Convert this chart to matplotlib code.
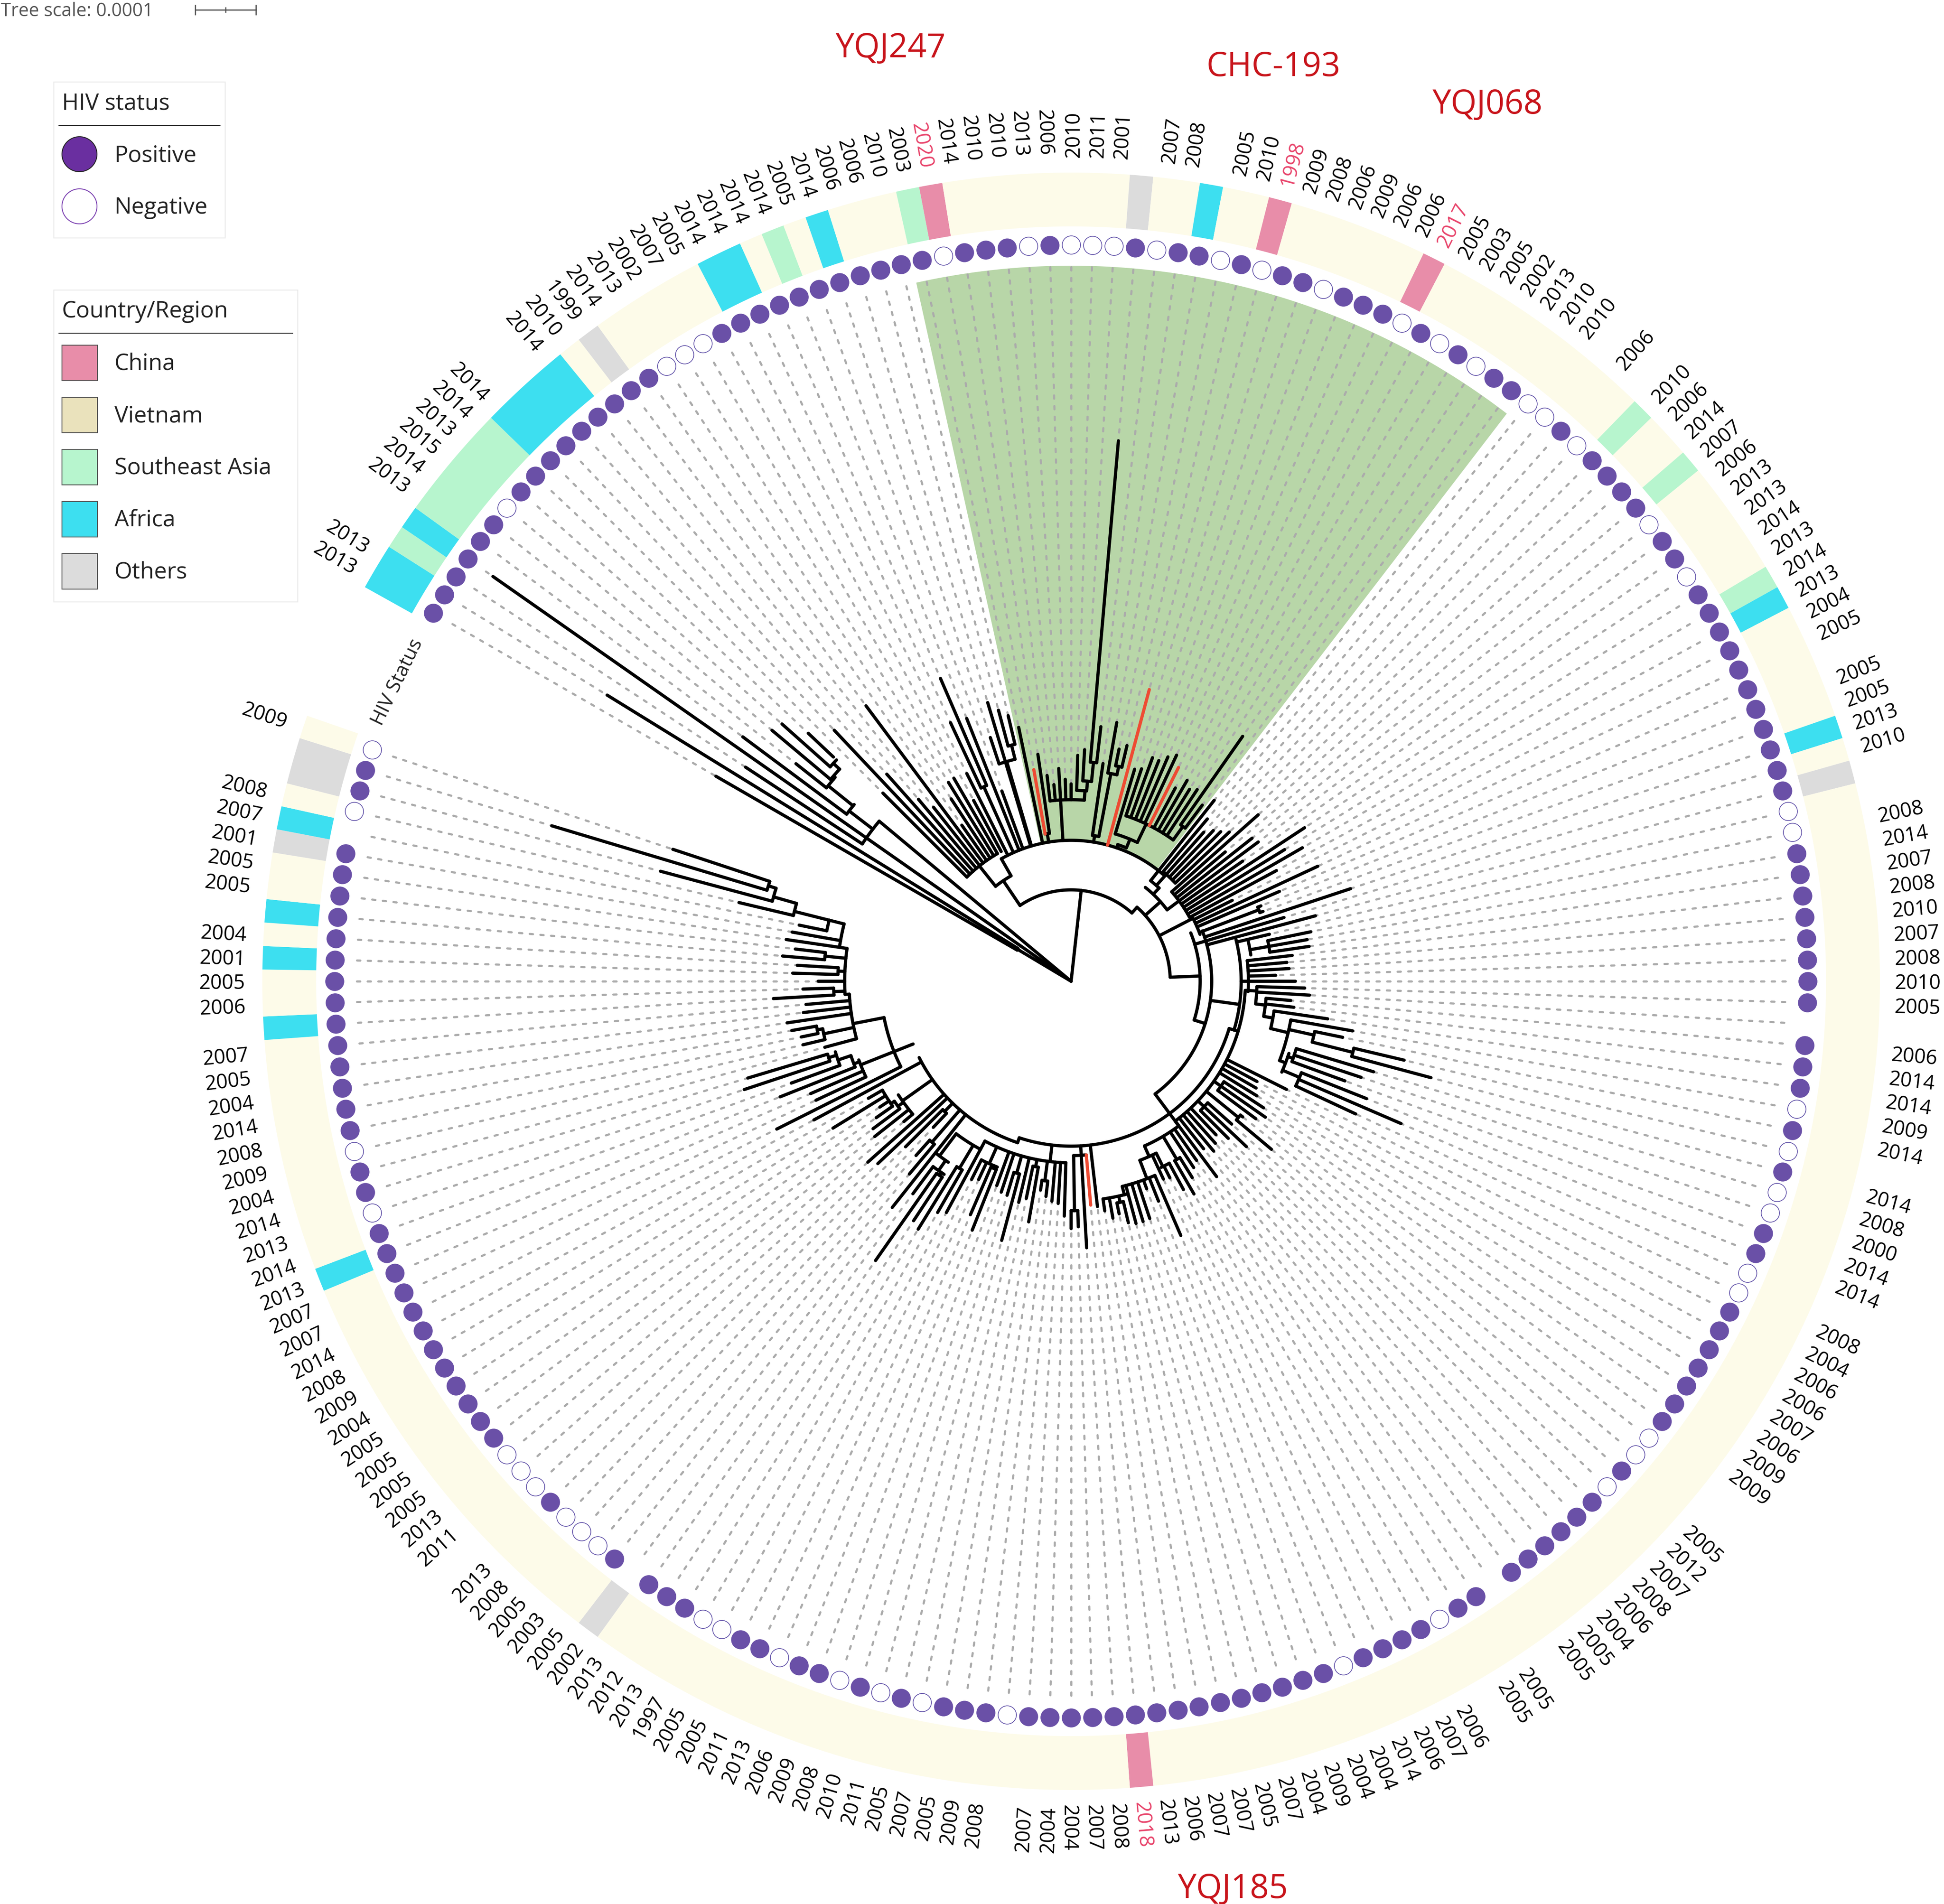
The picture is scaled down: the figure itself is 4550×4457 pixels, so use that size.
import itertools

import matplotlib.pyplot as plt
import numpy as np
from matplotlib.collections import LineCollection
from matplotlib.patches import Circle, Rectangle

plt.rcParams['font.family'] = ['Open Sans', 'DejaVu Sans']
plt.rcParams['lines.scale_dashes'] = False

# Leaves run clockwise, 0 is the one at the upper left end of the ring
YEARS = [
    2013, 2013, None, None, 2013, 2014, 2015, 2013, 2014, 2014,
    None, None, 2014, 2010, 1999, 2014, 2013, 2002, 2007, 2005,
    2014, 2014, 2014, 2014, 2005, 2014, 2006, 2006, 2010, 2003,
    2020, 2014, 2010, 2010, 2013, 2006, 2010, 2011, 2001, None,
    2007, 2008, None, 2005, 2010, 1998, 2009, 2008, 2006, 2009,
    2006, 2006, 2017, 2005, 2003, 2005, 2002, 2013, 2010, 2010,
    None, 2006, None, 2010, 2006, 2014, 2007, 2006, 2013, 2013,
    2014, 2013, 2014, 2013, 2004, 2005, None, 2005, 2005, 2013,
    2010, None, None, 2008, 2014, 2007, 2008, 2010, 2007, 2008,
    2010, 2005, None, 2006, 2014, 2014, 2009, 2014, None, 2014,
    2008, 2000, 2014, 2014, None, 2008, 2004, 2006, 2006, 2007,
    2006, 2009, 2009, None, None, 2005, 2012, 2007, 2008, 2006,
    2004, 2005, 2005, None, 2005, 2005, None, 2006, 2007, 2006,
    2014, 2004, 2004, 2009, 2004, 2007, 2005, 2007, 2007, 2006,
    2013, 2018, 2008, 2007, 2004, 2004, 2007, None, 2008, 2009,
    2005, 2007, 2005, 2011, 2010, 2008, 2009, 2006, 2013, 2011,
    2005, 2005, 1997, 2013, 2012, 2013, 2002, 2005, 2003, 2005,
    2008, 2013, None, 2011, 2013, 2005, 2005, 2005, 2005, 2004,
    2009, 2008, 2014, 2007, 2007, 2013, 2014, 2013, 2014, 2004,
    2009, 2008, 2014, 2004, 2005, 2007, None, 2006, 2005, 2001,
    2004, None, 2005, 2005, 2001, 2007, 2008, None, None, 2009,
]
RED_YEARS = [2020, 1998, 2017, 2018]

# P positive, N negative, _ nothing drawn
STATUS = (
    'PPPPPPNPPPPPPPPPNNNPPPPPPPPPPPNP'
    'PPNPNNNPNPPNPNPPNPPPNPNPNPPNNPNPPPPNPPN' 'PPPPPPPPPPP' 'NN' 'PPPPP'
    'PPP_PPPNPNPNNPPNNPPPPPPPNNPNPPPPPP_PPNPPPPN'
    'PPPPPPPPPPPPPPPN' 'PPPNPNPNPPNPPNNPPP_PNNNPNNNP'
    'PPPPPPPPPPPNPPNPPPPPPPPPPPPPP_NPPN'
)

# C China, V Vietnam, S Southeast Asia, A Africa, O others
REGION = (
    'AASASSSSSAAAAVOVVVVVAAVSVAVVVSCVVVVVVVVOVVAVVCVVVVVVCVVVVVVVVVV'
    'SVVSVVVVVSAVVVVVAVO'
    + 'V' * 59 + 'C' + 'V' * 24 + 'O' + 'V' * 18 + 'A' + 'V' * 10
    + 'AVVAVAVVOAVOOV'
)
REGION_COLORS = {'C': '#E88DA9', 'V': '#FDFBE9', 'S': '#B7F5CE',
                 'A': '#3DDFF0', 'O': '#DCDCDC'}

TIP_R = [
    960, 1276, 912, 1652, 958, 821, 914, 906, 846, 623,
    808, 649, 556, 519, 804, 446, 511, 547, 549, 481,
    544, 668, 772, 662, 474, 601, 681, 657, 639, 607,
    503, 537, 485, 462, 499, 473, 462, 529, 543, 1270,
    600, 515, 615, 555, 567, 707, 518, 524, 557, 556,
    572, 584, 560, 514, 543, 528, 537, 700, 514, 540,
    496, 467, 485, 495, 509, 586, 471, 540, 546, 490,
    654, 587, 625, 546, 422, 637, 531, 478, 478, 689,
    520, 592, 477, 573, 561, 563, 521, 507, 511, 479,
    525, 547, 559, 516, 525, 607, 669, 649, 801, 872,
    739, 715, 682, 744, 841, 735, 564, 494, 500, 511,
    539, 555, 539, 512, 612, 503, 564, 520, 494, 508,
    519, 500, 570, 512, 522, 540, 575, 554, 515, 511,
    648, 554, 517, 585, 587, 587, 581, 556, 563, 543,
    531, 526, 625, 575, 579, 550, 521, 517, 507, 494,
    572, 519, 532, 628, 523, 520, 509, 627, 595, 512,
    519, 615, 625, 682, 671, 798, 620, 675, 589, 546,
    470, 548, 622, 637, 511, 586, 578, 557, 536, 655,
    548, 684, 771, 659, 664, 733, 697, 806, 790, 597,
    645, 645, 664, 672, 631, 623, 698, 628, 592, 652,
    642, 678, 650, 674, 663, 650, 799, 995, 1269, 982,
]
BASE_R = [
    146, 146, 585, 8, 655, 730, 735, 755, 765, 345,
    345, 345, 345, 345, 345, 345, 345, 345, 345, 345,
    330, 499, 499, 330, 330, 536, 330, 570, 570, 330,
    350, 350, 425, 425, 425, 425, 425, 447, 470, 515,
    515, 345, 495, 515, 515, 330, 360, 408, 408, 408,
    408, 408, 408, 408, 408, 408, 408, 447, 447, 300,
    335, 335, 335, 335, 335, 315, 315, 315, 315, 315,
    315, 315, 315, 315, 321, 321, 321, 470, 470, 329,
    302, 329, 425, 470, 470, 470, 415, 415, 415, 415,
    415, 435, 435, 458, 458, 480, 522, 582, 680, 680,
    550, 550, 550, 580, 580, 580, 408, 408, 408, 408,
    428, 428, 428, 505, 505, 428, 428, 428, 408, 408,
    408, 408, 408, 422, 422, 485, 485, 484, 484, 449,
    495, 495, 495, 495, 495, 495, 530, 530, 515, 515,
    386, 408, 408, 537, 537, 425, 425, 425, 471, 471,
    442, 442, 425, 467, 467, 425, 425, 474, 474, 468,
    468, 447, 510, 510, 549, 549, 541, 398, 498, 498,
    425, 425, 398, 398, 484, 484, 500, 510, 510, 510,
    510, 398, 446, 530, 530, 544, 576, 595, 595, 520,
    592, 605, 605, 520, 520, 520, 556, 556, 530, 546,
    546, 579, 579, 548, 548, 584, 668, 724, 743, 743,
]
RED_LEAVES = [30, 45, 52, 141]

# first leaf, last leaf, depth of the arc, leaf position of its stem, depth the stem starts at
ARCS = [
    (15.6, 61, 214, 39.8, 0), (61, 88.6, 232, 61, 214),
    (0, 1, 146, 0.5, 0),
    (2, 5.9, 585, 5.9, 0), (4, 5.5, 655, 4.5, 585), (5, 6.5, 730, 5.3, 655),
    (6, 7.5, 735, 6.2, 730), (7, 8, 755, 7.5, 735),
    (12.9, 18.2, 284, 15.6, 214), (18.2, 61, 330, 18.2, 284), (9, 18, 345, 12.9, 284),
    (21, 22, 499, 21.5, 330), (25, 27.5, 536, 26.2, 330), (27, 28, 570, 27.5, 536),
    (30, 31, 350, 30.5, 330), (32, 38.5, 425, 34, 330), (37, 38.5, 447, 38.5, 425),
    (38, 39.5, 470, 38.8, 447), (39, 40, 515, 39.5, 470),
    (41, 42.5, 345, 41.5, 330), (42, 43.5, 495, 42.5, 345), (43, 44, 515, 43.5, 495),
    (47.3, 49.5, 338, 47.3, 330), (46, 51.3, 360, 49.5, 338), (47, 57.5, 408, 51.3, 360),
    (57, 58, 447, 57.5, 408),
    (59, 68, 280, 65, 232), (59, 62, 300, 62, 280), (60, 64, 335, 61, 300),
    (65, 73, 315, 68, 280),
    (74, 78, 321, 73.6, 232), (77, 78, 470, 77.5, 321),
    (76.8, 100.5, 302, 88.6, 232), (77.4, 122, 329, 100.5, 302),
    (81.5, 100, 398, 94.7, 329), (82, 85, 425, 82, 398), (83, 85, 470, 84, 425),
    (86, 92, 415, 90, 398),
    (100, 155, 386, 122, 329), (155, 182, 398, 155, 386), (92, 122, 408, 100, 386),
    (91, 94, 435, 91.8, 408), (93, 96, 458, 94.2, 435), (95, 98, 480, 96.2, 458),
    (96, 102.5, 522, 98, 480), (97, 98.5, 582, 97.5, 522), (98, 99, 680, 98.5, 582),
    (101, 104, 537, 102.5, 522), (100, 102, 550, 101.5, 537), (103, 105, 580, 103.7, 537),
    (110, 112, 428, 111, 408), (113, 114, 505, 113.5, 408), (115, 117, 428, 116, 408),
    (122, 129.6, 422, 122, 386), (125, 126, 485, 125.6, 422), (128.2, 131.4, 449, 129.6, 422),
    (127, 128.5, 484, 128.2, 449), (130, 135.6, 495, 131.4, 449), (135, 139, 515, 135.6, 495),
    (136, 137, 530, 136.5, 515),
    (141, 143.5, 408, 142, 386), (143, 144, 537, 143.5, 408),
    (145, 161, 425, 148, 386), (148, 149, 471, 148.5, 425), (150, 151, 442, 150.5, 425),
    (153, 154, 467, 153.5, 425), (157, 160, 468, 158.5, 425), (157, 158, 474, 157.5, 468),
    (161, 166.2, 447, 161, 425), (162, 163, 510, 162.5, 447),
    (164.5, 167, 512, 166.2, 447), (164, 166, 541, 165, 512), (164, 165, 549, 164.5, 541),
    (168, 169, 498, 168.5, 398), (170, 171, 425, 170.5, 398),
    (174, 178, 484, 176.8, 398), (176, 177.5, 500, 176.5, 484), (177, 180, 510, 177.5, 500),
    (182, 191.4, 446, 185, 398),
    (183, 185.8, 530, 185, 446), (185, 186.8, 544, 185.5, 530), (186, 188, 576, 186.8, 544),
    (187, 188, 595, 187.5, 576),
    (189, 196, 520, 191.4, 446), (196, 203, 530, 196, 520), (203, 206.5, 548, 203, 530),
    (190, 191.5, 592, 190.8, 520), (191, 192, 605, 191.5, 592),
    (196, 197, 556, 196.5, 530), (199, 200, 546, 199.5, 530), (201, 202, 579, 201.5, 530),
    (205, 206.5, 584, 206.5, 548), (206, 207.5, 668, 206.5, 584),
    (207, 208.5, 724, 207.5, 668), (208, 209, 743, 208.5, 724),
]

CLADE_LEAVES = (28.5, 58.5)

SAMPLE_NAMES = ['YQJ247', 'CHC-193', 'YQJ068', 'YQJ185']
HIV_LEGEND = ['Positive', 'Negative']
REGION_LEGEND = ['China', 'Vietnam', 'Southeast Asia', 'Africa', 'Others']
REGION_LEGEND_COLORS = ['#E88DA9', '#EAE2BC', '#B7F5CE', '#3DDFF0', '#DCDCDC']

cx, cy = 2507, 2297
step = 5 / 3


def leaf_angle(i):
    return np.radians(150 - np.asarray(i, dtype=float) * step)


def polar(i, r):
    a = leaf_angle(i)
    return cx + r * np.cos(a), cy - r * np.sin(a)


def spoke(i, r0, r1):
    x0, y0 = polar(i, r0)
    x1, y1 = polar(i, r1)
    return [(x0, y0), (x1, y1)]


def arc(i0, i1, r):
    xs, ys = polar(np.linspace(i0, i1, max(int(abs(i1 - i0) * 6), 2)), r)
    return np.column_stack([xs, ys])


def sector(i0, i1, r0, r1):
    ii = np.linspace(i0, i1, max(int(abs(i1 - i0) * 6), 2))
    x0, y0 = polar(ii, r0)
    x1, y1 = polar(ii[::-1], r1)
    return np.r_[x0, x1], np.r_[y0, y1]


fig = plt.figure(figsize=(45.5, 44.57), dpi=100)
ax = fig.add_axes([0, 0, 1, 1])
ax.set_xlim(0, 4550)
ax.set_ylim(4457, 0)
ax.axis('off')

# Green clade behind everything
xs, ys = sector(CLADE_LEAVES[0], CLADE_LEAVES[1], 332, 1675)
ax.fill(xs, ys, color='#B8D6A8', lw=0, zorder=1)

# Dashed lines from the tips out to the ring
n = len(TIP_R)
dashes = [spoke(i, 1672, TIP_R[i]) for i in range(n)]
ax.add_collection(LineCollection(dashes, colors='#ABABAB', linewidths=3.6,
                                 linestyles=(0, (5.5, 12.5)), capstyle='round', zorder=2))

# Tree
branches = [spoke(i, BASE_R[i], TIP_R[i]) for i in range(n) if i not in RED_LEAVES]
for first, last, depth, stem_at, stem_from in ARCS:
    branches.append(arc(first, last, depth))
    branches.append(spoke(stem_at, stem_from, depth))
ax.add_collection(LineCollection(branches, colors='black', linewidths=5.4,
                                 capstyle='round', joinstyle='round', zorder=3))
red = [spoke(i, BASE_R[i], TIP_R[i]) for i in RED_LEAVES]
ax.add_collection(LineCollection(red, colors='#EE4B33', linewidths=5.4,
                                 capstyle='round', zorder=4))

# HIV status dots
for code, face, edge in [('P', '#6A50A7', '#6A50A7'), ('N', 'white', '#5B4BA5')]:
    idx = [i for i in range(n) if STATUS[i] == code]
    x, y = polar(idx, 1724)
    ax.scatter(x, y, s=950, facecolor=face, edgecolor=edge, linewidths=1.2, zorder=5)

# Region ring, runs of one region become one piece
for code, run in itertools.groupby(range(n), key=lambda i: REGION[i]):
    run = list(run)
    xs, ys = sector(run[0] - 0.5, run[-1] + 0.5, 1767, 1893)
    ax.fill(xs, ys, color=REGION_COLORS[code], lw=0, zorder=5)

# Year labels
for i, year in enumerate(YEARS):
    if year is None:
        continue
    deg = float(150 - i * step)
    flip = np.cos(np.radians(deg)) < 0
    x, y = polar(i, 1933 if flip else 1928)
    ax.text(x, y, str(year), fontsize=34, rotation=deg - 180 if flip else deg,
            rotation_mode='anchor', ha='right' if flip else 'left', va='center_baseline',
            color='#E8436A' if year in RED_YEARS else 'black', zorder=6)

# Sample names
for name, x, y in zip(SAMPLE_NAMES, [2084, 2980, 3481, 2885], [104, 148, 236, 4413]):
    ax.text(x, y, name, fontsize=56, color='#C8141B', ha='center', va='center_baseline')

ax.text(925, 1595, 'HIV Status', fontsize=33, rotation=64, ha='center', va='center_baseline',
        rotation_mode='anchor', color='#222222')

# Tree scale
ax.text(2, 21, 'Tree scale: 0.0001', fontsize=31, color='#555555', ha='left', va='center_baseline')
ax.plot([457, 599], [23, 23], color='#555555', lw=2)
for x_tick, half in [(457, 11), (528, 5), (599, 11)]:
    ax.plot([x_tick, x_tick], [23 - half, 23 + half], color='#555555', lw=2)

# HIV legend
ax.add_patch(Rectangle((126, 192), 401, 365, fc='white', ec='#E8E8E8', lw=1.6, zorder=7))
ax.text(145, 236, 'HIV status', fontsize=38.5, color='#222222', va='center_baseline', zorder=8)
ax.plot([138, 515], [294, 294], color='#333333', lw=1.5, zorder=8)
for label, y, face, edge in zip(HIV_LEGEND, [361, 483], ['#6A2FA0', 'white'], ['#222222', '#7A3FB0']):
    ax.add_patch(Circle((186, y), 41, fc=face, ec=edge, lw=1.5, zorder=8))
    ax.text(268, y - 3, label, fontsize=38.5, color='#222222', va='center_baseline', zorder=8)

# Region legend
ax.add_patch(Rectangle((126, 679), 571, 730, fc='white', ec='#E8E8E8', lw=1.6, zorder=7))
ax.text(145, 723, 'Country/Region', fontsize=38.5, color='#222222', va='center_baseline', zorder=8)
ax.plot([138, 685], [780, 780], color='#333333', lw=1.5, zorder=8)
for k, (label, color) in enumerate(zip(REGION_LEGEND, REGION_LEGEND_COLORS)):
    y = 849 + k * 122
    ax.add_patch(Rectangle((145, y - 41), 83, 83, fc=color, ec='#555555', lw=1.5, zorder=8))
    ax.text(268, y - 3, label, fontsize=38.5, color='#222222', va='center_baseline', zorder=8)

fig.savefig('out.png', dpi=100)
